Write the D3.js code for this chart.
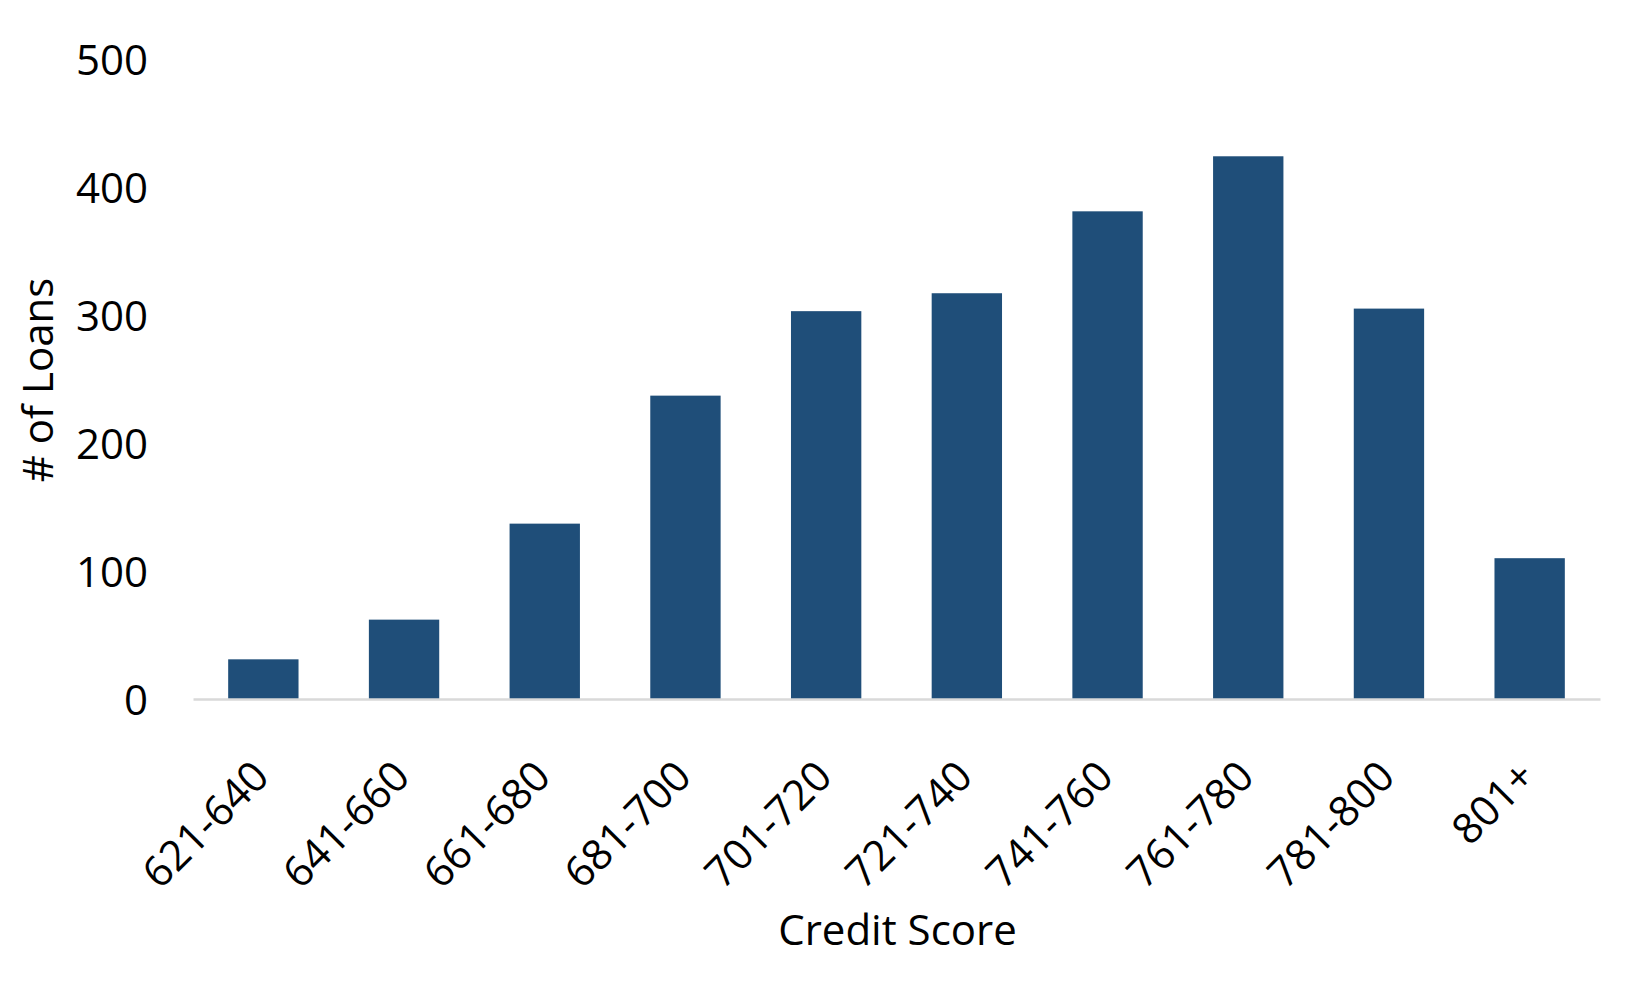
<!DOCTYPE html>
<html>
<head>
<meta charset="utf-8">
<script src="https://cdn.jsdelivr.net/npm/d3@7/dist/d3.min.js"></script>
<style>
  html, body { margin: 0; padding: 0; background: #ffffff; }
  svg text { font-family: "Open Sans", "Noto Sans", sans-serif; fill: #000000; }
</style>
</head>
<body>
<svg id="chart" width="1651" height="990"></svg>
<script>
const categories = ["621-640", "641-660", "661-680", "681-700", "701-720", "721-740", "741-760", "761-780", "781-800", "801+"];
const loans = [31, 62, 137, 237, 303, 317, 381, 424, 305, 110];
const yTicks = [0, 100, 200, 300, 400, 500];
const xTitle = "Credit Score";
const yTitle = "# of Loans";

(function () {
const svg = d3.select("#chart");
const plotLeft = 193, plotRight = 1600, plotBottom = 699, plotTop = 59;
const fontSize = 42;

const x = d3.scaleBand().domain(categories).range([plotLeft, plotRight]).paddingInner(0.5).paddingOuter(0.25);
const y = d3.scaleLinear().domain([0, 500]).range([plotBottom, plotTop]);

// bars
svg.append("g").selectAll("rect").data(loans).join("rect")
  .attr("x", (d, i) => x(categories[i]))
  .attr("width", x.bandwidth())
  .attr("y", d => y(d))
  .attr("height", d => y(0) - y(d))
  .attr("fill", "#1F4E79");

// baseline axis
const xAxis = d3.axisBottom(x).tickSize(0).tickFormat("");
const gx = svg.append("g").attr("transform", `translate(0,${plotBottom})`).call(xAxis);
gx.select(".domain").attr("stroke", "#D9D9D9").attr("stroke-width", 2.5);

// x tick labels rotated
svg.append("g").selectAll("text").data(categories).join("text")
  .attr("transform", d => `translate(${x(d) + x.bandwidth() / 2 + 8},${plotBottom + 80}) rotate(-45)`)
  .attr("text-anchor", "end")
  .attr("font-size", fontSize)
  .text(d => d);

// y axis labels (no line)
const yAxis = d3.axisLeft(y).tickValues(yTicks).tickSize(0).tickPadding(0);
const gy = svg.append("g").attr("transform", `translate(148,0)`).call(yAxis);
gy.select(".domain").remove();
gy.selectAll("text").attr("font-size", fontSize).attr("font-family", "'Open Sans', 'Noto Sans', sans-serif").attr("fill", "#000").attr("dy", "0.36em");

// titles
svg.append("text")
  .attr("x", (plotLeft + plotRight) / 2 + 1)
  .attr("y", 945)
  .attr("text-anchor", "middle")
  .attr("font-size", fontSize)
  .text(xTitle);

svg.append("text")
  .attr("transform", `translate(53,380) rotate(-90)`)
  .attr("text-anchor", "middle")
  .attr("font-size", fontSize)
  .text(yTitle);
})();
</script>
</body>
</html>
